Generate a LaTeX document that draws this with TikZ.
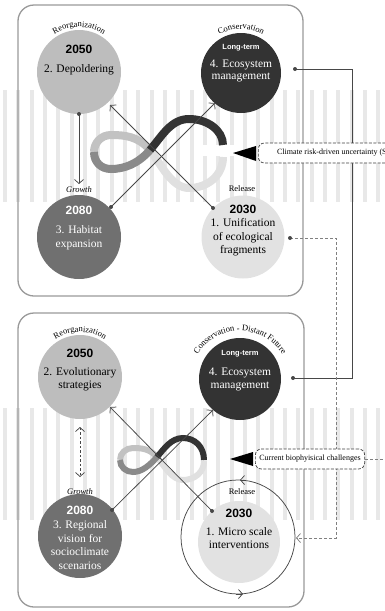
\documentclass[tikz,border=0pt]{standalone}
\usepackage{fontspec}
\setmainfont{Liberation Serif}
\setsansfont{Liberation Sans}
\usetikzlibrary{arrows.meta,decorations.text}
\definecolor{cReorg}{HTML}{BDBDBD}
\definecolor{cCons}{HTML}{333333}
\definecolor{cGrow}{HTML}{707070}
\definecolor{cRel}{HTML}{E2E2E2}
\definecolor{cStripe}{HTML}{E8E8E8}
\definecolor{cInfA}{HTML}{E0E0E0}
\definecolor{cInfB}{HTML}{C2C2C2}
\definecolor{cInfC}{HTML}{8A8A8A}
\definecolor{cInfD}{HTML}{333333}
\begin{document}
\begin{tikzpicture}[x=1pt,y=-1pt,
  panel/.style={draw=black!40, line width=1.3pt, rounded corners=16pt},
  conn/.style={draw=black!72, line width=0.75pt},
  dconn/.style={draw=black!50, line width=0.75pt, dash pattern=on 3pt off 2pt},
  tipend/.style={-{Straight Barb[length=4pt,width=9pt]}},
  bubble/.style={circle, inner sep=0pt, minimum size=#1},
  lbl/.style={font=\fontsize{11.5}{13}\selectfont, anchor=base, inner sep=0pt},
  yr/.style={font=\sffamily\bfseries\fontsize{12}{14}\selectfont, anchor=base, inner sep=0pt},
  lt/.style={font=\sffamily\bfseries\fontsize{7.5}{10}\selectfont, anchor=base, inner sep=0pt, text=white},
  phase/.style={font=\fontsize{8.5}{10}\selectfont, inner sep=0pt},
  note/.style={draw=black!75, dash pattern=on 3pt off 1.5pt, rounded corners=6pt, fill=white, line width=0.7pt, font=\fontsize{8}{10}\selectfont, minimum height=20pt, inner xsep=4pt, anchor=west},
  infw/.style={line width=8pt},
  infs/.style={line width=6pt}]
\useasboundingbox (0,0) rectangle (385,611);

% stripe bands
\foreach \i in {0,...,28} {
  \fill[cStripe] ({3+13.33*\i},90) rectangle ++(4,112);
  \fill[cStripe] ({3+13.33*\i},408) rectangle ++(4,112);
}

% panels
\draw[panel] (18,5) rectangle (303,296);
\draw[panel] (18,313) rectangle (304,607);

% ---------- top infinity ----------
\fill[white] (203,145) rectangle (234,156);
\draw[infw, cInfA] (223,157) .. controls (223,176) and (207,188) .. (189,188) .. controls (172,188) and (162,166) .. (150,150);
\draw[infw, cInfB] (150,150) .. controls (138,136) and (124,135) .. (111,135) .. controls (101,135) and (94,143) .. (94,152);
\draw[infw, cInfC] (94,152) .. controls (94,162) and (101,169) .. (111,169) .. controls (124,169) and (138,164) .. (150,150);
\draw[infw, cInfD] (150,150) .. controls (162,136) and (171,119) .. (189,119) .. controls (207,119) and (223,130) .. (223,145);

% ---------- bottom infinity ----------
\draw[infs, cInfA] (204,461) .. controls (204,472) and (195,480) .. (183,480) .. controls (172,480) and (165,467) .. (157,457);
\draw[infs, cInfB] (157,457) .. controls (150,449) and (142,448) .. (133,448) .. controls (126,448) and (120,453) .. (120,460);
\draw[infs, cInfC] (120,460) .. controls (120,467) and (126,472) .. (133,472) .. controls (142,472) and (150,465) .. (157,457);
\draw[infs, cInfD] (157,457) .. controls (164,449) and (171,438) .. (183,438) .. controls (195,438) and (204,447) .. (204,460);

% ---------- top circles ----------
\node[bubble=84pt, fill=cReorg] (reorgA) at (79,72) {};
\node[bubble=80pt, fill=cCons] (consA) at (241,73) {};
\node[bubble=84pt, fill=cGrow] (growA) at (79,237) {};
\node[bubble=83pt, fill=cRel] (relA) at (243,237) {};

\node[yr] (reorgAy) at (79,53) {2050};
\node[lbl] (reorgAt) at (79,72) {2. Depoldering};
\node[lt] (consAl) at (241,49) {Long-term};
\node[lbl, text=white] (consAt1) at (241,67) {4. Ecosystem};
\node[lbl, text=white] (consAt2) at (241,79) {management};
\node[yr, text=white] (growAy) at (79,214) {2080};
\node[lbl, text=white] (growAt1) at (79,233) {3. Habitat};
\node[lbl, text=white] (growAt2) at (79,247) {expansion};
\node[yr] (relAy) at (243,213) {2030};
\node[lbl] (relAt1) at (243,226) {1. Unification};
\node[lbl] (relAt2) at (243,240) {of ecological};
\node[lbl] (relAt3) at (243,253) {fragments};

\path[decorate, decoration={text along path, text align=center, text={|\fontsize{8.5}{10}\selectfont|Reorganization}}] (79,72) ++(-140:45) arc[start angle=-140, end angle=-40, radius=45];
\path[decorate, decoration={text along path, text align=center, text={|\fontsize{8.5}{10}\selectfont|Conservation}}] (241,73) ++(-140:44) arc[start angle=-140, end angle=-40, radius=44];
\node[phase, font=\itshape\fontsize{8.5}{10}\selectfont] (growAl) at (79,190) {Growth};
\node[phase] (relAl) at (242,189) {Release};

% ---------- bottom circles ----------
\draw[conn] (238,537) circle (57);
\draw[conn, tipend] (246,480) -- (240,480);
\draw[conn, tipend] (236,594) -- (243,594);

\node[bubble=84pt, fill=cReorg] (reorgB) at (80,377) {};
\node[bubble=82pt, fill=cCons] (consB) at (240,379) {};
\node[bubble=84pt, fill=cGrow] (growB) at (80,536) {};
\node[bubble=82pt, fill=cRel] (relB) at (239,542) {};

\node[yr] (reorgBy) at (80,357) {2050};
\node[lbl] (reorgBt1) at (80,375) {2. Evolutionary};
\node[lbl] (reorgBt2) at (80,388) {strategies};
\node[lt] (consBl) at (240,355) {Long-term};
\node[lbl, text=white] (consBt1) at (240,375) {4. Ecosystem};
\node[lbl, text=white] (consBt2) at (240,388) {management};
\node[yr, text=white] (growBy) at (80,514) {2080};
\node[lbl, text=white] (growBt1) at (80,528) {3. Regional};
\node[lbl, text=white] (growBt2) at (80,542) {vision for};
\node[lbl, text=white] (growBt3) at (80,555) {socioclimate};
\node[lbl, text=white] (growBt4) at (80,569) {scenarios};
\node[yr] (relBy) at (239,517) {2030};
\node[lbl] (relBt1) at (239,535) {1. Micro scale};
\node[lbl] (relBt2) at (239,548) {interventions};

\path[decorate, decoration={text along path, text align=center, text={|\fontsize{8.5}{10}\selectfont|Reorganization}}] (80,377) ++(-140:45) arc[start angle=-140, end angle=-40, radius=45];
\path[decorate, decoration={text along path, text align=center, text={|\fontsize{8.5}{10}\selectfont|Conservation - Distant Future}}] (240,381) ++(-156:50) arc[start angle=-156, end angle=-24, radius=50];
\node[phase, font=\itshape\fontsize{8.5}{10}\selectfont] (growBl) at (80,492) {Growth};
\node[phase] (relBl) at (242,492) {Release};

% ---------- connector coordinates ----------
\coordinate (a1) at (79,114);  \coordinate (a2) at (79,184);
\coordinate (b1) at (213,208); \coordinate (b2) at (110,105);
\coordinate (c1) at (111,207); \coordinate (c2) at (215,103);
\coordinate (d1) at (80,427);  \coordinate (d2) at (80,477);
\coordinate (e1) at (212,511); \coordinate (e2) at (110,407);
\coordinate (f1) at (112,510); \coordinate (f2) at (213,410);
\coordinate (g1) at (295,69);  \coordinate (g2) at (293,378);
\coordinate (h1) at (290,238); \coordinate (h2) at (296,538);

\draw[conn, tipend] (a1) -- (a2);
\draw[conn, tipend] (b1) -- (b2);
\draw[conn, tipend] (c1) -- (c2);
\draw[conn, dash pattern=on 2.5pt off 2pt, {Straight Barb[length=4pt,width=9pt]}-{Straight Barb[length=4pt,width=9pt]}] (d1) -- (d2);
\draw[conn, tipend] (e1) -- (e2);
\draw[conn, tipend] (f1) -- (f2);
\draw[conn, line width=1pt] (g1) -- ++(57,0) |- (g2);
\draw[dconn, tipend] (h1) -- ++(46,0) |- (h2);
\foreach \p in {a1,b1,c1,e1,f1,g1,g2,h1} \fill[black!72] (\p) circle (2);

% ---------- notes ----------
\node[note, minimum width=160pt, align=left] (noteA) at (258,153) {Climate risk-driven uncertainty (SLR)\hfill};
\fill[black] (233,153) -- (256,146) -- (256,161) -- cycle;
\node[note] (noteB) at (255,459) {Current biophyisical challenges};
\coordinate (edgeB) at (385,459);
\draw[dconn] (noteB.east) -- (edgeB);
\fill[black] (230,459) -- (253,452) -- (253,466) -- cycle;
\end{tikzpicture}
\end{document}
